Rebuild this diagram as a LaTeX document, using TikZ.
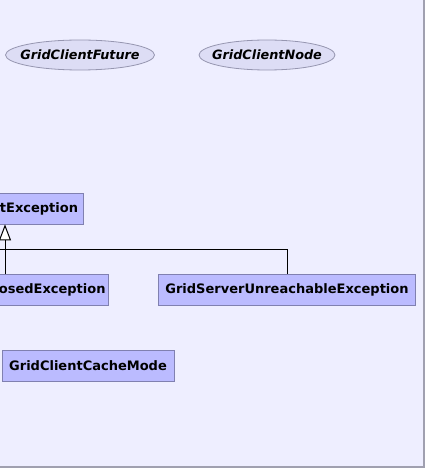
\documentclass[tikz,border=0pt]{standalone}
\usepackage{fontspec}
\setmainfont{DejaVu Sans}
\usetikzlibrary{shapes.geometric,arrows.meta}
\definecolor{bgc}{RGB}{238,238,255}
\definecolor{bordc}{RGB}{160,160,176}
\definecolor{boxfill}{RGB}{187,187,255}
\definecolor{boxdraw}{RGB}{128,128,176}
\definecolor{elfill}{RGB}{221,221,245}
\definecolor{eldraw}{RGB}{150,150,176}
\tikzset{
  cls/.style={draw=boxdraw, fill=boxfill, line width=0.8pt, minimum height=31pt, inner xsep=7pt, inner ysep=0pt, font=\fontsize{13}{15}\selectfont\bfseries},
  iface/.style={ellipse, draw=eldraw, fill=elfill, line width=0.8pt, minimum height=30pt, inner xsep=-9pt, inner ysep=0pt, font=\fontsize{12.8}{15}\selectfont\bfseries\itshape},
  gen/.style={line width=1pt, -{Triangle[length=16pt,width=12pt,fill=white]}},
  lnk/.style={line width=1pt}
}
\begin{document}
\begin{tikzpicture}[x=1pt,y=-1pt]
\useasboundingbox (0,0) rectangle (425,468);
\clip (0,0) rectangle (425,468);
\fill[bgc] (-5,-5) rectangle (424,467);
\draw[bordc, line width=1.5pt] (424,-5) -- (424,467) -- (-5,467);
\node[iface, minimum width=149pt] (fut) at (80,55) {GridClientFuture};
\node[iface, minimum width=136pt] (nod) at (267,55) {GridClientNode};
\node[cls, anchor=east, inner xsep=5.5pt] (exc) at (84,208.5) {tException};
\node[cls, anchor=east, inner xsep=3pt] (clo) at (109,289.5) {osedException};
\node[cls, minimum width=256pt] (unr) at (287,289.5) {GridServerUnreachableException};
\node[cls, minimum width=172pt] (cache) at (88,365.5) {GridClientCacheMode};
\coordinate (up) at (5,0);
\coordinate (jl) at (-5,249);
\draw[lnk] (unr.north) |- (jl);
\draw[gen] (clo.north -| up) -- (exc.south -| up);
\end{tikzpicture}
\end{document}
